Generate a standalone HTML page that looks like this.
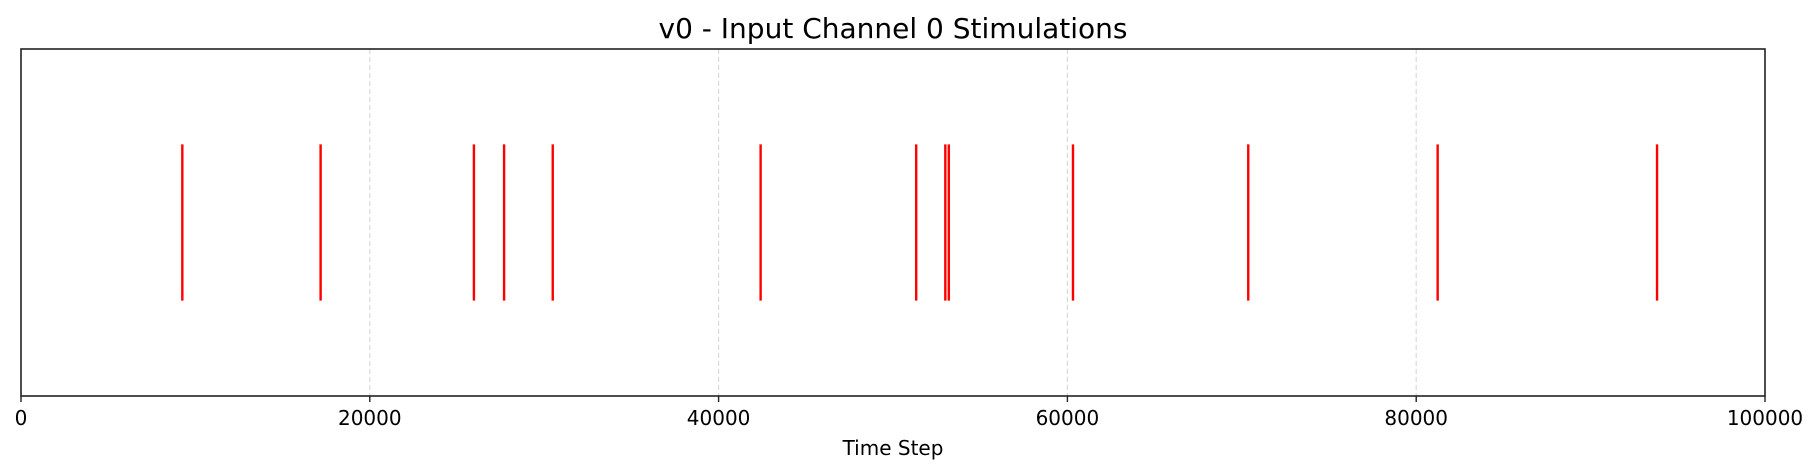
<!DOCTYPE html>
<html><head><meta charset="utf-8"><style>
body{margin:0;background:#fff;}
svg{display:block;font-family:"DejaVu Sans","Liberation Sans",sans-serif;}
</style></head><body>
<svg id="chart" width="1820" height="473">
<text x="893" y="38" font-size="28" text-anchor="middle" fill="#000">v0 - Input Channel 0 Stimulations</text>
<g id="grid"></g>
<g id="spikes"></g>
<rect x="21" y="49" width="1744" height="347" fill="none" stroke="#222" stroke-width="1.6"/>
<g id="ticks"></g>
<text x="893" y="455" font-size="20" text-anchor="middle" fill="#000">Time Step</text>
</svg>
<script>
const stimTimes=[9250,17180,25970,27700,30490,42410,51330,53000,53200,60320,70370,81230,93810];
const tickValues=[0,20000,40000,60000,80000,100000];
const tickLabels=["0","20000","40000","60000","80000","100000"];
const xMin=0,xMax=100000,L=21,R=1765,T=49,B=396;
const yMin=0,yMax=1,spikeLo=0.275,spikeHi=0.725;
const x=v=>L+(v-xMin)/(xMax-xMin)*(R-L);
const y=v=>B-(v-yMin)/(yMax-yMin)*(B-T);
const NS="http://www.w3.org/2000/svg";
function mk(tag,attrs,parent){const e=document.createElementNS(NS,tag);for(const k in attrs)e.setAttribute(k,attrs[k]);parent.appendChild(e);return e;}
const grid=document.getElementById('grid'),spikes=document.getElementById('spikes'),ticks=document.getElementById('ticks');
tickValues.forEach((v,i)=>{
  if(i>0&&i<tickValues.length-1){
    const g=mk('line',{x1:x(v),x2:x(v),y1:T,y2:B,stroke:'#d9d9d9','stroke-width':1.2,'stroke-dasharray':'5,3'},grid);
    
    
  }
  const t=mk('line',{x1:x(v),x2:x(v),y1:B,y2:B+6,stroke:'#222','stroke-width':1.4},ticks);
  
  
  const lb=mk('text',{x:x(v),y:B+29,'font-size':20,'text-anchor':'middle',fill:'#000'},ticks);
  lb.textContent=tickLabels[i];
  
  
});
stimTimes.forEach(v=>{
  const s=mk('line',{x1:x(v),x2:x(v),y1:y(spikeHi),y2:y(spikeLo),stroke:'#ff0000','stroke-width':2.4},spikes);
  
  
});
</script>
</body></html>
